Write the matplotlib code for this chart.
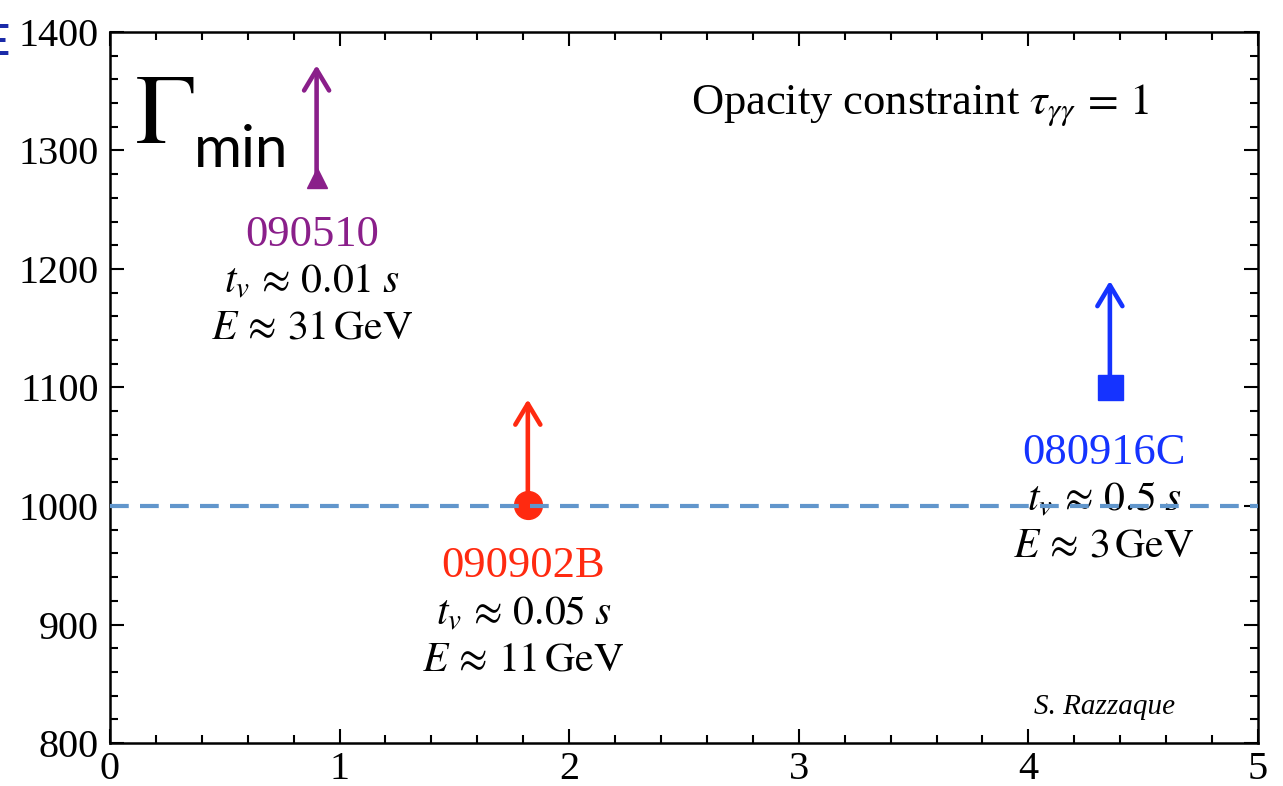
import matplotlib
matplotlib.use("Agg")
import matplotlib.pyplot as plt
from matplotlib.ticker import MultipleLocator

plt.rcParams['font.family'] = ['Liberation Serif', 'DejaVu Serif']
plt.rcParams['mathtext.fontset'] = 'stix'

# Data
grb_names = ["090510", "090902B", "080916C"]
grb_x = [0.9, 1.82, 4.355]
grb_gamma = [1277, 1001, 1100]
grb_arrow_tip = [1372, 1090, 1190]
grb_tv = ["0.01", "0.05", "0.5"]
grb_E = ["31", "11", "3"]
grb_colors = ["#8a1f8a", "#ff2a10", "#1533ff"]
grb_markers = ["^", "o", "s"]
grb_msize = [15, 20, 18]
label_x = [0.88, 1.8, 4.33]
label_y = [1229, 949, 1045]
ref_gamma = 1000

fig = plt.figure(figsize=(12.83, 7.86), dpi=100)
ax = fig.add_axes([0.0857, 0.0547, 0.8948, 0.9046])
ax.set_xlim(0, 5)
ax.set_ylim(800, 1400)

for i in range(3):
    ax.annotate("", xy=(grb_x[i], grb_arrow_tip[i]), xytext=(grb_x[i], grb_gamma[i]),
                arrowprops=dict(arrowstyle="->,head_length=0.75,head_width=0.45",
                                mutation_scale=20,
                                color=grb_colors[i], lw=3.3, shrinkA=0, shrinkB=0,
                                joinstyle="round", capstyle="round"),
                zorder=3)
    ax.plot([grb_x[i]], [grb_gamma[i]], marker=grb_markers[i], ms=grb_msize[i],
            color=grb_colors[i], mec=grb_colors[i], zorder=4, clip_on=False)
    ax.text(label_x[i], label_y[i], grb_names[i], color=grb_colors[i], fontsize=32,
            ha="center", va="center")
    ax.text(label_x[i], label_y[i] - 40, r"$t_v\,\approx\, %s\;s$" % grb_tv[i],
            fontsize=30, ha="center", va="center", zorder=2)
    ax.text(label_x[i], label_y[i] - 79, r"$E\,\approx\, %s\,\mathrm{GeV}$" % grb_E[i],
            fontsize=30, ha="center", va="center", zorder=2)

ax.axhline(ref_gamma, color="#6196cc", lw=3, dashes=(4.5, 2.7), zorder=5)

ax.text(3.53, 1338, r"Opacity constraint $\tau_{\gamma\gamma}\, =\, 1$", fontsize=32,
        ha="center", va="center")
ax.text(4.33, 830, "S. Razzaque", fontsize=21, style="italic", ha="center", va="center")

fig.text(0.105, 0.818, r"$\Gamma$", fontsize=72, ha="left", va="baseline")
fig.text(0.151, 0.787, "min", fontsize=42, family=["Lato", "DejaVu Sans"],
         ha="left", va="baseline")
fig.text(-0.011, 0.945, "E", fontsize=30, color="#1a2aa8", family=["Lato", "DejaVu Sans"],
         ha="left", va="center", fontweight="bold")

ax.xaxis.set_major_locator(MultipleLocator(1))
ax.xaxis.set_minor_locator(MultipleLocator(0.2))
ax.yaxis.set_major_locator(MultipleLocator(100))
ax.yaxis.set_minor_locator(MultipleLocator(20))
ax.tick_params(which="both", direction="in", top=True, right=True, width=1.5)
ax.tick_params(which="major", length=10, labelsize=29, pad=6)
ax.tick_params(which="minor", length=6)
ax.tick_params(axis="y", pad=8)
for s in ax.spines.values():
    s.set_linewidth(1.8)

fig.savefig("out.png", dpi=100)
